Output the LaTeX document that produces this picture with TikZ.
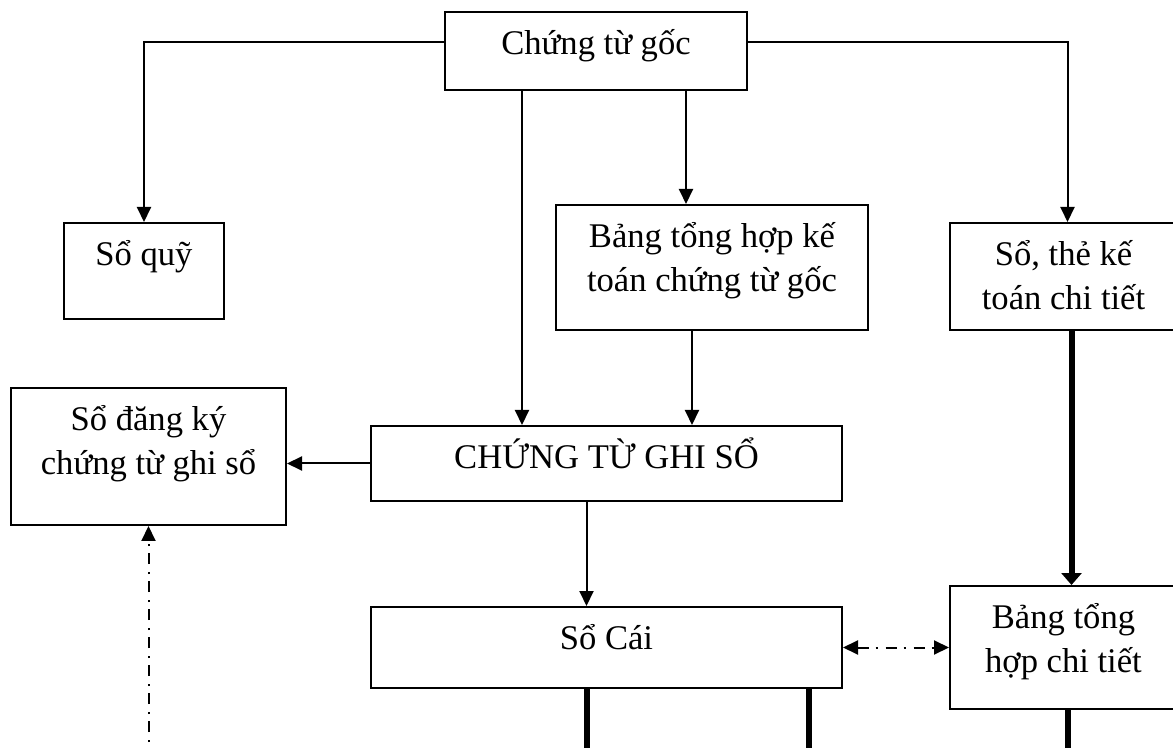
\documentclass[tikz,border=0pt]{standalone}
\usepackage{fontspec}
\setmainfont{Liberation Serif}
\usetikzlibrary{arrows.meta}

\tikzset{
    >={Triangle[length=7.5pt,width=7pt]},
    box/.style={draw, line width=1pt, inner sep=0pt, anchor=north west,
        font=\fontsize{17.3}{22}\selectfont},
    arr/.style={line width=1pt, ->},
    thk/.style={line width=3pt},
    thkarr/.style={thk, -{Triangle[length=6pt,width=10pt]}},
    dashdot/.style={line width=1pt, dash pattern=on 5.5pt off 3.5pt on 1pt off 4pt},
}
% text sits at the top of each box
\newcommand{\boxtext}[3]{\parbox[c][#2][t]{#1}{\centering\rule{0pt}{21.25pt}#3}}

\begin{document}
\begin{tikzpicture}[x=0.5pt, y=-0.5pt]
    \useasboundingbox (0,0) rectangle (1173,748);
    \clip (0,0) rectangle (1173,748);

    % --- boxes ---
    \node[box] (goc)    at (444,11)  {\boxtext{151pt}{39pt}{Chứng từ gốc}};
    \node[box] (quy)    at (63,222)  {\boxtext{80pt}{48pt}{Sổ quỹ}};
    \node[box] (bthop)  at (555,204) {\boxtext{156pt}{62.5pt}{Bảng tổng hợp kế\\toán chứng từ gốc}};
    \node[box] (sothe)  at (949,222) {\boxtext{113.5pt}{53.5pt}{Sổ, thẻ kế\\toán chi tiết}};
    \node[box] (dangky) at (10,387)  {\boxtext{137.5pt}{68.5pt}{Sổ đăng ký\\chứng từ ghi sổ}};
    \node[box] (ctgs)   at (370,425) {\boxtext{235.5pt}{37.5pt}{CHỨNG TỪ GHI SỔ}};
    \node[box] (socai)  at (370,606) {\boxtext{235.5pt}{40.5pt}{Sổ Cái}};
    \node[box] (bthct)  at (949,585) {\boxtext{113.5pt}{61.5pt}{Bảng tổng\\hợp chi tiết}};

    % lower edge, where the open lines run out
    \coordinate (bottom) at (0,760);

    % --- from Chứng từ gốc ---
    \draw[arr] ([yshift=4.5pt]goc.west) -| (quy.north);
    \draw[arr] ([yshift=4.5pt]goc.east) -| ([xshift=2pt]sothe.north);
    \draw[arr] ([xshift=-37pt]goc.south) -- ([xshift=-37pt]goc.south |- ctgs.north);
    \draw[arr] ([xshift=45pt]goc.south) -- ([xshift=45pt]goc.south |- bthop.north);

    % --- into / out of CHỨNG TỪ GHI SỔ ---
    \draw[arr] ([xshift=-10pt]bthop.south) -- ([xshift=-10pt]bthop.south |- ctgs.north);
    \draw[arr] (ctgs.west) -- (ctgs.west -| dangky.east);
    \draw[arr] ([xshift=-10pt]ctgs.south) -- ([xshift=-10pt]ctgs.south |- socai.north);

    % --- detail branch ---
    \draw[thkarr] ([xshift=4pt]sothe.south) -- ([xshift=4pt]sothe.south |- bthct.north);
    \draw[dashdot, <->] (socai.east) -- (socai.east -| bthct.west);

    % --- lines leaving the bottom ---
    \draw[dashdot, ->] (dangky.south |- bottom) -- (dangky.south);
    \draw[thk] ([xshift=-10pt]socai.south) -- ([xshift=-10pt]socai.south |- bottom);
    \draw[thk] ([xshift=101pt]socai.south) -- ([xshift=101pt]socai.south |- bottom);
    \draw[thk] ([xshift=2pt]bthct.south) -- ([xshift=2pt]bthct.south |- bottom);

\end{tikzpicture}
\end{document}
